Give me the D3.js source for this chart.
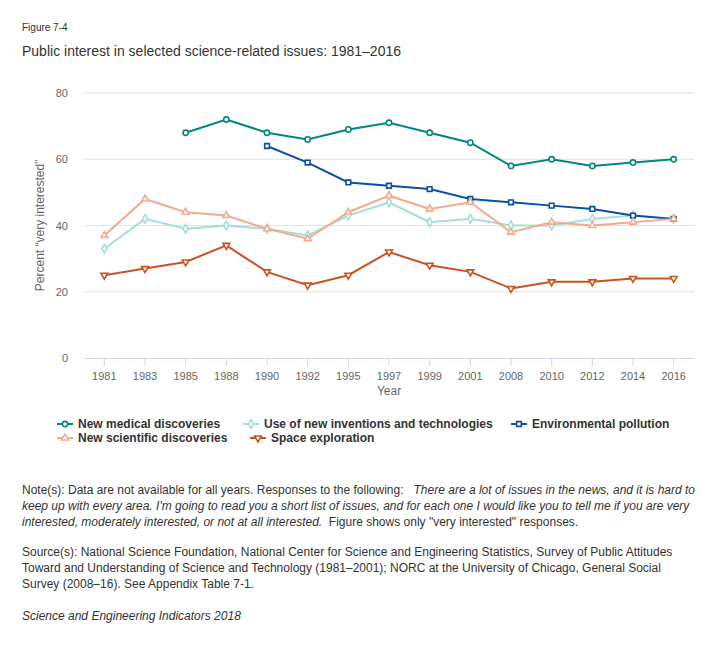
<!DOCTYPE html>
<html>
<head>
<meta charset="utf-8">
<script src="https://cdn.jsdelivr.net/npm/d3@7"></script>
<style>
  body { margin: 0; background: #fff; }
  svg { font-family: "Liberation Sans", Arial, sans-serif; }
</style>
</head>
<body>
<svg id="chart" width="724" height="646"></svg>
<script>
// Data
const years = ["1981", "1983", "1985", "1988", "1990", "1992", "1995", "1997",
               "1999", "2001", "2008", "2010", "2012", "2014", "2016"];
const medical      = [null, null, 68, 72, 68, 66, 69, 71, 68, 65, 58, 60, 58, 59, 60];
const inventions   = [33, 42, 39, 40, 39, 37, 43, 47, 41, 42, 40, 40, 42, 43, 42];
const pollution    = [null, null, null, null, 64, 59, 53, 52, 51, 48, 47, 46, 45, 43, 42];
const scientific   = [37, 48, 44, 43, 39, 36, 44, 49, 45, 47, 38, 41, 40, 41, 42];
const space        = [25, 27, 29, 34, 26, 22, 25, 32, 28, 26, 21, 23, 23, 24, 24];
const yTicks = [0, 20, 40, 60, 80];

const series = [
  { name: "New medical discoveries", values: medical, color: "#00877e", symbol: d3.symbolCircle },
  { name: "Use of new inventions and technologies", values: inventions, color: "#a6dcd6", symbol: d3.symbolDiamond },
  { name: "Environmental pollution", values: pollution, color: "#0a50a1", symbol: d3.symbolSquare },
  { name: "New scientific discoveries", values: scientific, color: "#f2ab8f", symbol: d3.symbolTriangle },
  { name: "Space exploration", values: space, color: "#c9531f", symbol: "down" }
];

const svg = d3.select("#chart");
const plotLeft = 84, plotRight = 694, plotTop = 93, plotBottom = 358;

// Titles
svg.append("text").attr("x", 22).attr("y", 31)
  .attr("font-size", 10).attr("fill", "#333").text("Figure 7-4");
svg.append("text").attr("x", 22).attr("y", 56)
  .attr("font-size", 14).attr("fill", "#333")
  .text("Public interest in selected science-related issues: 1981\u20132016");

// Scales
const x = d3.scaleBand().domain(years).range([plotLeft, plotRight]);
const y = d3.scaleLinear().domain([0, 80]).range([plotBottom, plotTop]);

// Grid
svg.append("g").selectAll("line").data(yTicks.filter(d => d > 0)).enter()
  .append("line")
  .attr("x1", plotLeft).attr("x2", plotRight)
  .attr("y1", d => y(d)).attr("y2", d => y(d))
  .attr("stroke", "#e1e1e1").attr("stroke-width", 1);

// Y axis
const yAxis = svg.append("g")
  .attr("transform", "translate(" + plotLeft + ",0)")
  .call(d3.axisLeft(y).tickValues(yTicks).tickSize(0).tickPadding(16));
yAxis.select(".domain").remove();
yAxis.selectAll("text").attr("font-size", 11).attr("fill", "#666")
  .attr("font-family", "Liberation Sans, Arial, sans-serif");

svg.append("text")
  .attr("transform", "translate(44," + ((plotTop + plotBottom) / 2) + ") rotate(-90)")
  .attr("text-anchor", "middle").attr("font-size", 12).attr("fill", "#666")
  .text("Percent \u201cvery interested\u201d");

// X axis
const xAxis = svg.append("g")
  .attr("transform", "translate(0," + plotBottom + ")")
  .call(d3.axisBottom(x).tickSizeOuter(0).tickSizeInner(8).tickPadding(6));
xAxis.select(".domain").attr("stroke", "#ccd6eb");
xAxis.selectAll(".tick line").attr("stroke", "#ccd6eb");
xAxis.selectAll("text").attr("font-size", 11).attr("fill", "#666")
  .attr("font-family", "Liberation Sans, Arial, sans-serif");

svg.append("text").attr("x", (plotLeft + plotRight) / 2).attr("y", 395)
  .attr("text-anchor", "middle").attr("font-size", 12).attr("fill", "#666")
  .text("Year");

// Marker helper
function marker(sel, s) {
  if (s.symbol === "down") {
    sel.attr("d", d3.symbol().type(d3.symbolTriangle).size(20))
      .attr("transform", function () { return d3.select(this).attr("transform") + " rotate(180)"; });
  } else {
    sel.attr("d", d3.symbol().type(s.symbol).size(s.symbol === d3.symbolTriangle ? 20 : 22));
  }
}

// Lines
const line = d3.line()
  .defined(d => d.v !== null)
  .x(d => x(d.year) + x.bandwidth() / 2)
  .y(d => y(d.v));

series.forEach(s => {
  const pts = years.map((yr, i) => ({ year: yr, v: s.values[i] }));
  svg.append("path").datum(pts)
    .attr("d", line).attr("fill", "none")
    .attr("stroke", s.color).attr("stroke-width", 2);
  svg.append("g").selectAll("path").data(pts.filter(d => d.v !== null)).enter()
    .append("path")
    .attr("transform", d => "translate(" + (x(d.year) + x.bandwidth() / 2) + "," + y(d.v) + ")")
    .attr("fill", "#fff").attr("stroke", s.color).attr("stroke-width", 1.6)
    .call(marker, s);
});

// Legend
const legendPos = [[57, 424], [243, 424], [511, 424], [57, 438], [250, 438]];
series.forEach((s, i) => {
  const g = svg.append("g").attr("transform", "translate(" + legendPos[i][0] + "," + legendPos[i][1] + ")");
  g.append("line").attr("x1", 0).attr("x2", 16).attr("y1", 0).attr("y2", 0)
    .attr("stroke", s.color).attr("stroke-width", 2);
  g.append("path").attr("transform", "translate(8,0)")
    .attr("fill", "#fff").attr("stroke", s.color).attr("stroke-width", 1.6)
    .call(marker, s);
  g.append("text").attr("x", 21).attr("y", 4)
    .attr("font-size", 12).attr("font-weight", "bold").attr("fill", "#333")
    .text(s.name);
});

// Notes
const notes = svg.append("g").attr("font-size", 12).attr("fill", "#333");
function noteLine(yy, parts) {
  const t = notes.append("text").attr("x", 22).attr("y", yy).attr("xml:space", "preserve");
  parts.forEach(p => t.append("tspan").attr("font-style", p[1] ? "italic" : "normal").text(p[0]));
}
noteLine(494, [["Note(s): Data are not available for all years. Responses to the following:   ", false],
               ["There are a lot of issues in the news, and it is hard to", true]]);
noteLine(510, [["keep up with every area. I'm going to read you a short list of issues, and for each one I would like you to tell me if you are very", true]]);
noteLine(526, [["interested, moderately interested, or not at all interested.", true],
               ["  Figure shows only \"very interested\" responses.", false]]);
noteLine(556, [["Source(s): National Science Foundation, National Center for Science and Engineering Statistics, Survey of Public Attitudes", false]]);
noteLine(572, [["Toward and Understanding of Science and Technology (1981\u20132001); NORC at the University of Chicago, General Social", false]]);
noteLine(588, [["Survey (2008\u201316). See Appendix Table 7-1.", false]]);
noteLine(620, [["Science and Engineering Indicators 2018", true]]);
</script>
</body>
</html>
